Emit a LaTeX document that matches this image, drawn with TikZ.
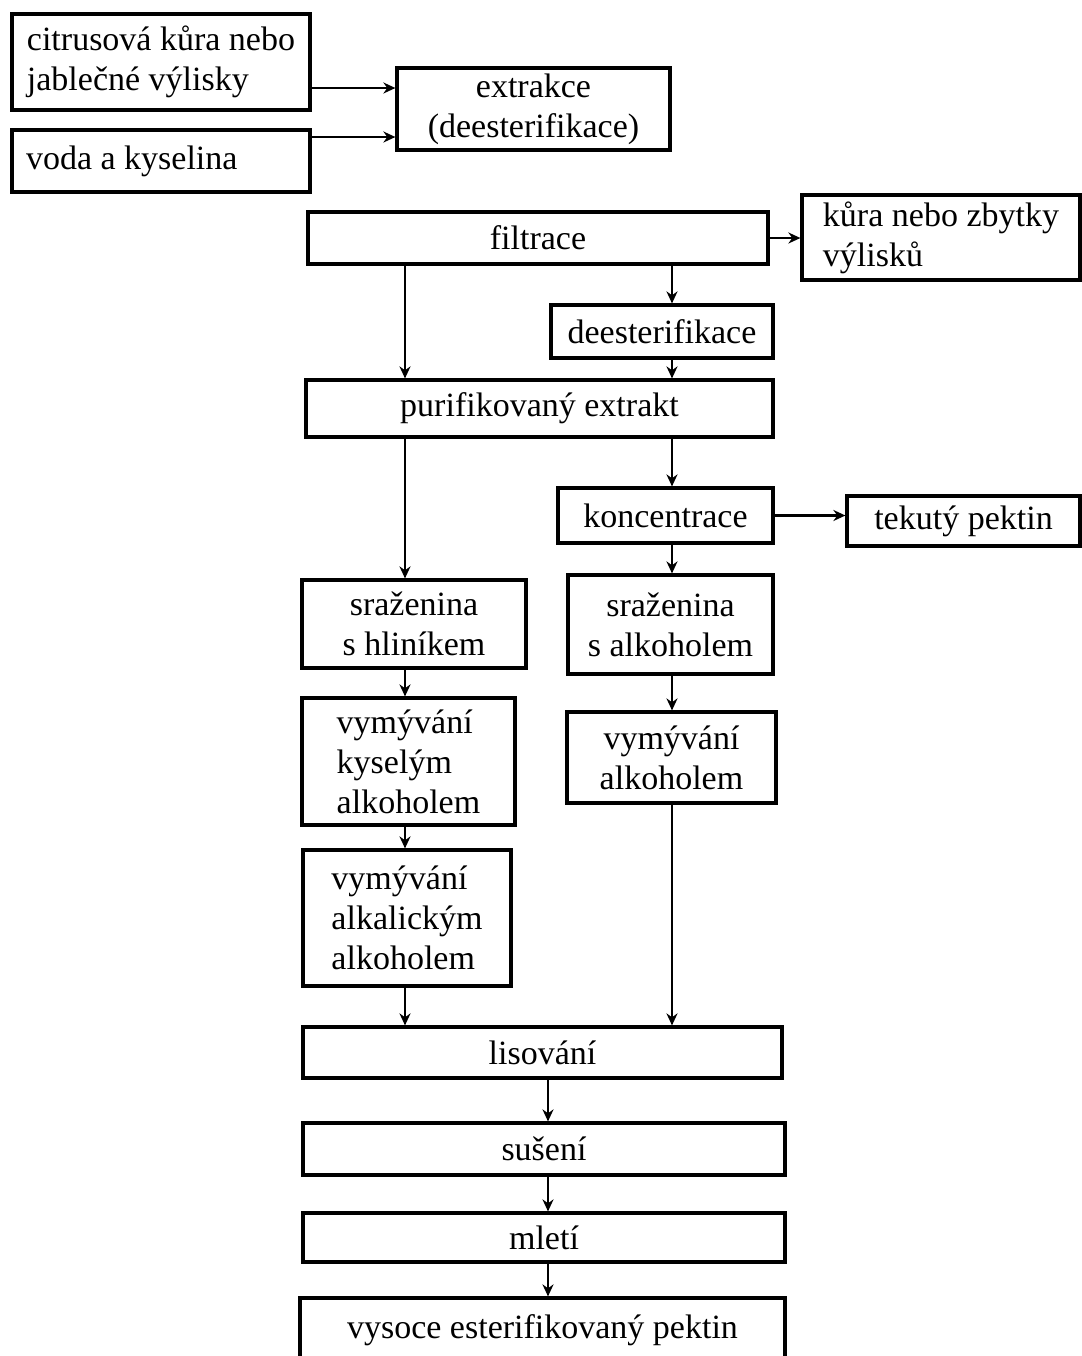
\documentclass[tikz,border=0pt]{standalone}
\usepackage{fontspec}
\setmainfont{Liberation Serif}
\usetikzlibrary{arrows.meta, calc}

\begin{document}
\begin{tikzpicture}[x=0.5pt, y=-0.5pt,
  stage/.style={draw, line width=1.6pt, inner sep=0pt, align=center, font=\fontsize{17}{20}\selectfont},
  flow/.style={-{Stealth[length=6pt, width=5.5pt]}, line width=1.4pt}]
  \useasboundingbox (0,0) rectangle (1082,1356);
  \clip (0,0) rectangle (1082,1356);

  % Inputs and extraction
  \node[stage, align=left, minimum width=149pt, minimum height=48pt] (src) at (161,62) {citrusová kůra nebo\\jablečné výlisky};
  \node[stage, align=flush left, text width=135pt, inner xsep=7pt, minimum height=31pt] (water) at (161,161) {voda a kyselina};
  \node[stage, minimum width=136.5pt, minimum height=41pt] (extr) at (533.5,109) {extrakce\\(deesterifikace)};

  % Filtration
  \node[stage, minimum width=230pt, minimum height=26pt] (filt) at (538,238) {filtrace};
  \node[stage, align=left, minimum width=139pt, minimum height=42.5pt] (peel) at (941,237.5) {kůra nebo zbytky\\výlisků};
  \node[stage, minimum width=111pt, minimum height=26.5pt] (deest) at (662,331.5) {deesterifikace};
  \node[stage, minimum width=233.5pt, minimum height=28.5pt] (purif) at (539.5,408.5) {purifikovaný extrakt};

  % Right branch
  \node[stage, minimum width=107.5pt, minimum height=27.5pt] (konc) at (665.5,515.5) {koncentrace};
  \node[stage, minimum width=116.5pt, minimum height=25pt] (liquid) at (963.5,521) {tekutý pektin};
  \node[stage, minimum width=102.5pt, minimum height=49.5pt] (precalc) at (670.5,624.5) {sraženina\\s alkoholem};
  \node[stage, minimum width=104.5pt, minimum height=45.5pt] (washalc) at (671.5,757.5) {vymývání\\alkoholem};

  % Left branch
  \node[stage, minimum width=112pt, minimum height=44pt] (precal) at (414,624) {sraženina\\s hliníkem};
  \node[stage, align=left, minimum width=106.5pt, minimum height=63.5pt] (washacid) at (408.5,761.5) {vymývání\\kyselým\\alkoholem};
  \node[stage, align=left, minimum width=104pt, minimum height=68pt] (washbase) at (407,918) {vymývání\\alkalickým\\alkoholem};

  % Final steps
  \node[stage, minimum width=239.5pt, minimum height=25.5pt] (press) at (542.5,1052.5) {lisování};
  \node[stage, minimum width=241pt, minimum height=26pt] (dry) at (544,1149) {sušení};
  \node[stage, minimum width=241pt, minimum height=24.5pt] (mill) at (544,1237.5) {mletí};
  \node[stage, minimum width=242.5pt, minimum height=32pt] (prod) at (542.5,1330) {vysoce esterifikovaný pektin};

  % Connectors
  \coordinate (lcol) at (405,0);
  \coordinate (rcol) at (672,0);
  \coordinate (mcol) at (548,0);
  \coordinate (in1) at ([yshift=10.5pt]extr.west);
  \coordinate (in2) at ([yshift=-14pt]extr.west);

  \draw[flow] (src.east |- in1) -- (in1);
  \draw[flow] (water.east |- in2) -- (in2);
  \draw[flow] (filt.east) -- (peel.west |- filt.east);
  \draw[flow] (filt.south -| lcol) -- (purif.north -| lcol);
  \draw[flow] (filt.south -| rcol) -- (deest.north -| rcol);
  \draw[flow] (deest.south -| rcol) -- (purif.north -| rcol);
  \draw[flow] (purif.south -| lcol) -- (precal.north -| lcol);
  \draw[flow] (purif.south -| rcol) -- (konc.north -| rcol);
  \draw[flow] (konc.east) -- (liquid.west |- konc.east);
  \draw[flow] (konc.south -| rcol) -- (precalc.north -| rcol);
  \draw[flow] (precalc.south -| rcol) -- (washalc.north -| rcol);
  \draw[flow] (washalc.south -| rcol) -- (press.north -| rcol);
  \draw[flow] (precal.south -| lcol) -- (washacid.north -| lcol);
  \draw[flow] (washacid.south -| lcol) -- (washbase.north -| lcol);
  \draw[flow] (washbase.south -| lcol) -- (press.north -| lcol);
  \draw[flow] (press.south -| mcol) -- (dry.north -| mcol);
  \draw[flow] (dry.south -| mcol) -- (mill.north -| mcol);
  \draw[flow] (mill.south -| mcol) -- (prod.north -| mcol);
\end{tikzpicture}
\end{document}
